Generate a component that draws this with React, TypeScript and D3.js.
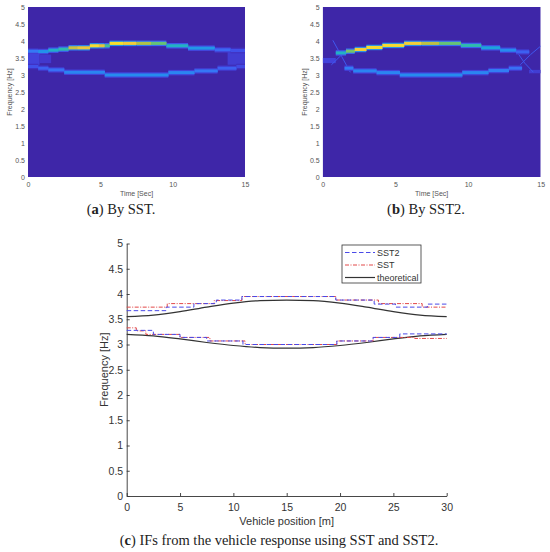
import * as d3 from 'd3'
import { useEffect, useRef } from 'react'

type Seg = [number, number, number, number] // t0, t1, freq, level
type Haze = [number, number, number, number, number] // t0, t1, f0, f1, level
type Pt = [number, number]

// ---- panel (a): SST ridges ----
const sstUpper: Seg[] = [
  [0, 0.7, 3.7, 0.24], [0.7, 1.4, 3.69, 0.32], [1.4, 2.1, 3.73, 0.44],
  [2.1, 2.8, 3.76, 0.5], [2.8, 3.4, 3.8, 0.74], [3.4, 4.27, 3.8, 0.82],
  [4.27, 4.9, 3.86, 0.9], [4.9, 5.3, 3.86, 0.8], [5.3, 5.64, 3.86, 0.55],
  [5.64, 6.6, 3.93, 0.92], [6.6, 7.5, 3.93, 0.85], [7.5, 8.5, 3.93, 0.7],
  [8.5, 9.56, 3.93, 0.6], [9.56, 11.06, 3.86, 0.45], [11.06, 12.9, 3.79, 0.34],
  [12.9, 14, 3.74, 0.2], [14, 15, 3.72, 0.14],
]
const sstLower: Seg[] = [
  [0, 0.7, 3.25, 0.14], [0.7, 1.4, 3.2, 0.18], [1.4, 2.5, 3.15, 0.22],
  [2.5, 5.3, 3.08, 0.28], [5.3, 9.7, 3.0, 0.3], [9.7, 11.5, 3.07, 0.28],
  [11.5, 13.1, 3.12, 0.24], [13.1, 14.4, 3.2, 0.18], [14.4, 15, 3.25, 0.12],
]
const sstHaze: Haze[] = [
  [0, 0.8, 3.3, 3.65, 0.1], [0.8, 1.6, 3.35, 3.6, 0.07],
  [13.8, 15, 3.3, 3.68, 0.08],
]

// ---- panel (b): SST2 ridges ----
const sst2Upper: Seg[] = [
  [0.9, 1.6, 3.65, 0.45], [1.6, 2.2, 3.7, 0.62], [2.2, 3.0, 3.75, 0.86],
  [3.0, 4.1, 3.81, 0.9], [4.1, 5.6, 3.87, 0.9], [5.6, 6.8, 3.93, 0.86],
  [6.8, 8.0, 3.93, 0.72], [8.0, 9.5, 3.93, 0.6], [9.5, 10.9, 3.87, 0.5],
  [10.9, 12.2, 3.8, 0.38], [12.2, 13.3, 3.73, 0.3], [13.3, 14.2, 3.68, 0.18],
]
const sst2Lower: Seg[] = [
  [1.5, 2.1, 3.2, 0.25], [2.1, 3.7, 3.12, 0.28], [3.7, 5.3, 3.07, 0.28],
  [5.3, 9.6, 3.0, 0.3], [9.6, 11.4, 3.07, 0.28], [11.4, 12.8, 3.13, 0.26],
  [12.8, 13.7, 3.2, 0.22],
]
const sst2Haze: Haze[] = [
  [0, 0.9, 3.35, 3.5, 0.1], [14.2, 15, 3.05, 3.15, 0.08],
]
const sst2Strokes: Pt[][] = [
  [[0.7, 4.02], [1.3, 3.55], [1.9, 3.08]],
  [[0.6, 3.3], [1.2, 3.55], [1.7, 3.75]],
  [[13.3, 3.72], [13.9, 3.35], [14.5, 3.08]],
  [[13.6, 3.3], [14.3, 3.6], [15, 3.85]],
]

// ---- panel (c): instantaneous frequencies ----
const sst2UpperIF: Pt[] = [
  [0, 3.67], [3.7, 3.74], [6.3, 3.81], [8.4, 3.88], [10.8, 3.95],
  [19.6, 3.88], [23.2, 3.8], [25.2, 3.74], [28.2, 3.8], [30, 3.8],
]
const sstUpperIF: Pt[] = [
  [0, 3.74], [3.8, 3.81], [8.2, 3.87], [10.8, 3.95], [19.6, 3.88],
  [23.6, 3.81], [27.7, 3.74], [30, 3.74],
]
const sst2LowerIF: Pt[] = [
  [0, 3.28], [2.5, 3.2], [5.0, 3.14], [7.5, 3.07], [10.9, 3.0],
  [19.7, 3.07], [23.1, 3.14], [25.6, 3.21], [30, 3.21],
]
const sstLowerIF: Pt[] = [
  [0, 3.33], [0.9, 3.27], [1.8, 3.2], [5.0, 3.14], [7.8, 3.07],
  [11.1, 3.0], [19.7, 3.07], [23.1, 3.14], [27, 3.12], [30, 3.12],
]
const theoUpper: Pt[] = [
  [0, 3.55], [2.5, 3.58], [5, 3.65], [7.5, 3.74], [10, 3.82], [12.5, 3.87],
  [15, 3.88], [17.5, 3.87], [20, 3.82], [22.5, 3.74], [25, 3.65],
  [27.5, 3.58], [30, 3.55],
]
const theoLower: Pt[] = [
  [0, 3.2], [2.5, 3.17], [5, 3.11], [7.5, 3.04], [10, 2.98], [12.5, 2.94],
  [15, 2.93], [17.5, 2.94], [20, 2.98], [22.5, 3.04], [25, 3.11],
  [27.5, 3.17], [30, 3.2],
]

const freqTicks = [0, 0.5, 1, 1.5, 2, 2.5, 3, 3.5, 4, 4.5, 5]
const timeTicks = [0, 5, 10, 15]
const posTicks = [0, 5, 10, 15, 20, 25, 30]
const legendNames = ['SST2', 'SST', 'theoretical']

const parula = d3.interpolateRgbBasis([
  '#3e26a8', '#4543e6', '#3a72fb', '#1e98ea', '#1cb3c8', '#3fc195',
  '#9bc646', '#e7bb39', '#fad33a', '#f9fb0e',
])

const sans = 'Liberation Sans, Arial, sans-serif'
const serif = 'Liberation Serif, Times New Roman, serif'

const App = () => {
  const ref = useRef<SVGSVGElement>(null)

  useEffect(() => {
    const svg = d3.select(ref.current)
    svg.selectAll('*').remove()

    const defs = svg.append('defs')
    defs
      .append('filter')
      .attr('id', 'soft')
      .attr('x', '-5%')
      .attr('y', '-20%')
      .attr('width', '110%')
      .attr('height', '140%')
      .append('feGaussianBlur')
      .attr('stdDeviation', 0.6)

    function heatPanel(
      id: string,
      x0: number,
      x1: number,
      y0: number,
      y1: number,
      upper: Seg[],
      lower: Seg[],
      haze: Haze[],
      strokes: Pt[][],
      letter: string,
      caption: string,
      capX: number
    ) {
      const x = d3.scaleLinear().domain([0, 15]).range([x0, x1])
      const y = d3.scaleLinear().domain([0, 5]).range([y1, y0])

      defs
        .append('clipPath')
        .attr('id', 'clip-' + id)
        .append('rect')
        .attr('x', x0)
        .attr('y', y0)
        .attr('width', x1 - x0)
        .attr('height', y1 - y0)

      const g = svg.append('g').attr('clip-path', 'url(#clip-' + id + ')')
      g.append('rect')
        .attr('x', x0)
        .attr('y', y0)
        .attr('width', x1 - x0)
        .attr('height', y1 - y0)
        .attr('fill', parula(0))

      const soft = g.append('g').attr('filter', 'url(#soft)')
      soft
        .selectAll('rect.haze')
        .data(haze)
        .enter()
        .append('rect')
        .attr('class', 'haze')
        .attr('x', (d) => x(d[0]))
        .attr('width', (d) => x(d[1]) - x(d[0]))
        .attr('y', (d) => y(d[3]))
        .attr('height', (d) => y(d[2]) - y(d[3]))
        .attr('fill', (d) => parula(d[4]))

      soft
        .selectAll('path.stroke')
        .data(strokes)
        .enter()
        .append('path')
        .attr('class', 'stroke')
        .attr('d', (d) => d3.line().x((p) => x(p[0])).y((p) => y(p[1]))(d) ?? '')
        .attr('fill', 'none')
        .attr('stroke', parula(0.16))
        .attr('stroke-width', 1)

      const ridges = upper.concat(lower)
      // halo
      soft
        .selectAll('rect.halo')
        .data(ridges)
        .enter()
        .append('rect')
        .attr('class', 'halo')
        .attr('x', (d) => x(d[0]))
        .attr('width', (d) => x(d[1]) - x(d[0]))
        .attr('y', (d) => y(d[2] + 0.08))
        .attr('height', (d) => y(d[2] - 0.08) - y(d[2] + 0.08))
        .attr('fill', (d) => parula(d[3] * 0.35))
      soft
        .selectAll('rect.ridge')
        .data(ridges)
        .enter()
        .append('rect')
        .attr('class', 'ridge')
        .attr('x', (d) => x(d[0]))
        .attr('width', (d) => x(d[1]) - x(d[0]) + 0.3)
        .attr('y', (d) => y(d[2] + 0.045))
        .attr('height', (d) => y(d[2] - 0.045) - y(d[2] + 0.045))
        .attr('fill', (d) => parula(d[3]))

      const yAxis = svg
        .append('g')
        .attr('transform', 'translate(' + x0 + ',0)')
        .call(
          d3
            .axisLeft(y)
            .tickValues(freqTicks)
            .tickSize(0)
            .tickPadding(3)
            .tickFormat((d) => String(d))
        )
      yAxis.select('.domain').remove()
      yAxis
        .selectAll('text')
        .attr('font-family', sans)
        .attr('font-size', 7)
        .attr('fill', '#555')

      const xAxis = svg
        .append('g')
        .attr('transform', 'translate(0,' + y1 + ')')
        .call(
          d3
            .axisBottom(x)
            .tickValues(timeTicks)
            .tickSize(0)
            .tickPadding(5)
            .tickFormat((d) => String(d))
        )
      xAxis.select('.domain').remove()
      xAxis
        .selectAll('text')
        .attr('font-family', sans)
        .attr('font-size', 7)
        .attr('fill', '#555')

      svg
        .append('text')
        .attr('x', (x0 + x1) / 2)
        .attr('y', y1 + 19)
        .attr('text-anchor', 'middle')
        .attr('font-family', sans)
        .attr('font-size', 7)
        .attr('fill', '#555')
        .text('Time [Sec]')

      svg
        .append('text')
        .attr('transform', 'translate(' + (x0 - 16) + ',' + (y0 + y1) / 2 + ') rotate(-90)')
        .attr('text-anchor', 'middle')
        .attr('font-family', sans)
        .attr('font-size', 7)
        .attr('fill', '#555')
        .text('Frequency [Hz]')

      const cap = svg
        .append('text')
        .attr('x', capX)
        .attr('y', 214)
        .attr('text-anchor', 'middle')
        .attr('font-family', serif)
        .attr('font-size', 14.5)
        .attr('fill', '#222')
      cap.append('tspan').text('(')
      cap.append('tspan').attr('font-weight', 'bold').text(letter)
      cap.append('tspan').text(') ' + caption)
    }

    heatPanel('a', 28, 245, 7, 177, sstUpper, sstLower, sstHaze, [], 'a', 'By SST.', 121)
    heatPanel('b', 322.7, 540.7, 7, 177, sst2Upper, sst2Lower, sst2Haze, sst2Strokes, 'b', 'By SST2.', 426)

    // ---- panel (c) ----
    const cx0 = 126.7
    const cx1 = 446.7
    const cy0 = 243.5
    const cy1 = 496
    const x = d3.scaleLinear().domain([0, 30]).range([cx0, cx1])
    const y = d3.scaleLinear().domain([0, 5]).range([cy1, cy0])
    const g = svg.append('g')

    const yAxis = g
      .append('g')
      .attr('transform', 'translate(' + cx0 + ',0)')
      .call(
        d3
          .axisRight(y)
          .tickValues(freqTicks)
          .tickSize(3)
          .tickSizeOuter(0)
          .tickFormat((d) => String(d))
      )
    yAxis.selectAll('text').attr('x', -3.5).attr('text-anchor', 'end')
    const xAxis = g
      .append('g')
      .attr('transform', 'translate(0,' + cy1 + ')')
      .call(
        d3
          .axisTop(x)
          .tickValues(posTicks)
          .tickSize(3)
          .tickSizeOuter(0)
          .tickFormat((d) => String(d))
      )
    xAxis.selectAll('text').attr('y', 8).attr('dy', '0.71em')
    for (const ax of [xAxis, yAxis]) {
      ax.select('.domain').attr('stroke', '#333').attr('stroke-width', 0.9)
      ax.selectAll('line').attr('stroke', '#333').attr('stroke-width', 0.9)
      ax.selectAll('text')
        .attr('font-family', sans)
        .attr('font-size', 10.5)
        .attr('fill', '#333')
    }

    g.append('text')
      .attr('x', (cx0 + cx1) / 2)
      .attr('y', 525)
      .attr('text-anchor', 'middle')
      .attr('font-family', sans)
      .attr('font-size', 11)
      .attr('fill', '#333')
      .text('Vehicle position [m]')
    g.append('text')
      .attr('transform', 'translate(' + 107.5 + ',' + (cy0 + cy1) / 2 + ') rotate(-90)')
      .attr('text-anchor', 'middle')
      .attr('font-family', sans)
      .attr('font-size', 11)
      .attr('fill', '#333')
      .text('Frequency [Hz]')

    const step = d3.line().x((p) => x(p[0])).y((p) => y(p[1])).curve(d3.curveStepAfter)
    const smooth = d3.line().x((p) => x(p[0])).y((p) => y(p[1])).curve(d3.curveMonotoneX)

    const styles = [
      { color: '#4a4ae8', dash: '4.5,2.5', width: 1 },
      { color: '#e24848', dash: '4,1.5,1,1.5', width: 1 },
      { color: '#333', dash: null, width: 1.2 },
    ]

    const series: { pts: Pt[]; s: number; stepped: boolean }[] = [
      { pts: theoUpper, s: 2, stepped: false },
      { pts: theoLower, s: 2, stepped: false },
      { pts: sstUpperIF, s: 1, stepped: true },
      { pts: sstLowerIF, s: 1, stepped: true },
      { pts: sst2UpperIF, s: 0, stepped: true },
      { pts: sst2LowerIF, s: 0, stepped: true },
    ]
    g.selectAll('path.series')
      .data(series)
      .enter()
      .append('path')
      .attr('class', 'series')
      .attr('d', (d) => (d.stepped ? step(d.pts) : smooth(d.pts)) ?? '')
      .attr('fill', 'none')
      .attr('stroke', (d) => styles[d.s].color)
      .attr('stroke-width', (d) => styles[d.s].width)
      .attr('stroke-dasharray', (d) => styles[d.s].dash)

    // legend
    const lg = g.append('g').attr('transform', 'translate(342,245)')
    lg.append('rect')
      .attr('width', 79)
      .attr('height', 38)
      .attr('fill', '#fff')
      .attr('stroke', '#333')
      .attr('stroke-width', 0.8)
    const row = lg
      .selectAll('g.row')
      .data(legendNames)
      .enter()
      .append('g')
      .attr('class', 'row')
      .attr('transform', (_d, i) => 'translate(0,' + (7.5 + i * 12.5) + ')')
    row
      .append('line')
      .attr('x1', 3)
      .attr('x2', 33)
      .attr('stroke', (_d, i) => styles[i].color)
      .attr('stroke-width', (_d, i) => styles[i].width)
      .attr('stroke-dasharray', (_d, i) => styles[i].dash)
    row
      .append('text')
      .attr('x', 35)
      .attr('dy', '0.35em')
      .attr('font-family', sans)
      .attr('font-size', 9)
      .attr('fill', '#333')
      .text((d) => d)

    const cap = svg
      .append('text')
      .attr('x', 279)
      .attr('y', 545)
      .attr('text-anchor', 'middle')
      .attr('font-family', serif)
      .attr('font-size', 14.5)
      .attr('fill', '#222')
    cap.append('tspan').text('(')
    cap.append('tspan').attr('font-weight', 'bold').text('c')
    cap.append('tspan').text(') IFs from the vehicle response using SST and SST2.')
  }, [])

  return (
    <svg
      ref={ref}
      width={550}
      height={552}
      style={{ position: 'absolute', left: 0, top: 0, background: '#fff' }}
    />
  )
}

export default App
